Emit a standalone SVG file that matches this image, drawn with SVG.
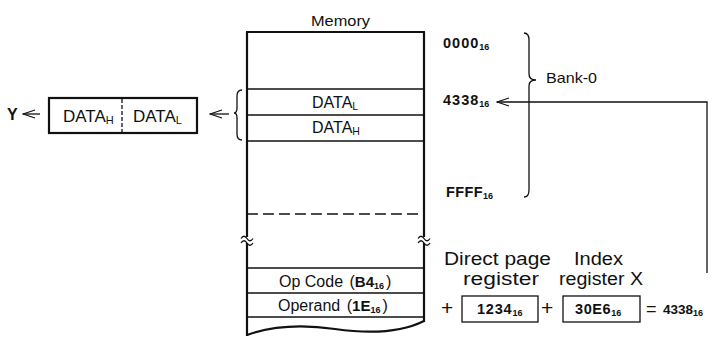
<svg xmlns="http://www.w3.org/2000/svg" width="715" height="338" viewBox="0 0 715 338">
<defs>
<style>
.t{font-family:"Liberation Sans",Arial,sans-serif;fill:#111;}
.b{font-weight:bold;}
.ln{stroke:#111;fill:none;stroke-width:1.3;}
.thick{stroke:#111;fill:none;stroke-width:2.2;}
.sub{font-size:9px;}
</style>
<marker id="ah" viewBox="0 0 14 10" refX="13" refY="5" markerWidth="14" markerHeight="10" markerUnits="userSpaceOnUse" orient="auto">
<path d="M1,1 L13,5 L1,9" fill="none" stroke="#111" stroke-width="1.3"/>
</marker>
</defs>
<rect width="715" height="338" fill="#fff"/>

<g id="memory">
<text class="t" x="311" y="26" font-size="15.5" textLength="59" lengthAdjust="spacingAndGlyphs">Memory</text>
<line class="thick" x1="246" y1="32" x2="425" y2="32"/>
<line class="thick" x1="247" y1="32" x2="247" y2="237"/>
<line class="thick" x1="247" y1="243" x2="247" y2="336"/>
<line class="thick" x1="424" y1="32" x2="424" y2="237"/>
<line class="thick" x1="424" y1="243" x2="424" y2="322"/>
<path class="ln" d="M241,238.5 c2,-3 4,-3 6,0 s4,3 6,0 M241,243 c2,-3 4,-3 6,0 s4,3 6,0"/>
<path class="ln" d="M418,238.5 c2,-3 4,-3 6,0 s4,3 6,0 M418,243 c2,-3 4,-3 6,0 s4,3 6,0"/>
<line class="ln" x1="247" y1="89" x2="424" y2="89"/>
<line class="ln" x1="247" y1="115" x2="424" y2="115"/>
<line class="ln" x1="247" y1="141" x2="424" y2="141"/>
<line class="ln" x1="247" y1="214" x2="424" y2="214" stroke-dasharray="11 5"/>
<line class="ln" x1="247" y1="268" x2="424" y2="268"/>
<line class="ln" x1="247" y1="293" x2="424" y2="293"/>
<line class="ln" x1="247" y1="317" x2="424" y2="317"/>
<path class="thick" d="M247,335 C272,326 300,324 335,329 C370,334 400,333 424,321"/>
<text class="t" x="312" y="108" font-size="16">DATA<tspan font-size="10.5" dy="2">L</tspan></text>
<text class="t" x="312" y="133" font-size="16">DATA<tspan font-size="10.5" dy="2">H</tspan></text>
<text class="t" x="279" y="287" font-size="16">Op Code <tspan dx="2">(</tspan><tspan class="b" font-size="15">B4</tspan><tspan class="b sub" dy="2">16</tspan><tspan dy="-2" dx="2">)</tspan></text>
<text class="t" x="278" y="311" font-size="16">Operand <tspan dx="2">(</tspan><tspan class="b" font-size="15">1E</tspan><tspan class="b sub" dy="2">16</tspan><tspan dy="-2" dx="2">)</tspan></text>
</g>

<g id="data-register">
<rect x="49" y="98" width="148" height="35" class="thick"/>
<line class="ln" x1="122" y1="99" x2="122" y2="132" stroke-dasharray="4 2"/>
<text class="t" x="63" y="122" font-size="17">DATA<tspan font-size="11" dy="2">H</tspan></text>
<text class="t" x="133" y="122" font-size="17">DATA<tspan font-size="11" dy="2">L</tspan></text>
</g>

<g id="y-label">
<text class="t b" x="7" y="120" font-size="16">Y</text>
</g>

<g id="addresses">
<text class="t b" x="443" y="48" font-size="14.5" letter-spacing="1">0000<tspan class="sub" dy="2" letter-spacing="0">16</tspan></text>
<text class="t b" x="443" y="105" font-size="14.5" letter-spacing="1">4338<tspan class="sub" dy="2" letter-spacing="0">16</tspan></text>
<text class="t b" x="446" y="197" font-size="14.5" letter-spacing="0.4">FFFF<tspan class="sub" dy="2" letter-spacing="0">16</tspan></text>
</g>

<g id="bank0">
<path class="ln" d="M524,33 Q529,33 529,40 L529,74 Q529,80 536,80 Q529,80 529,86 L529,190 Q529,197 524,197"/>
<text class="t" x="546" y="83" font-size="14.5" textLength="51" lengthAdjust="spacingAndGlyphs">Bank-0</text>
</g>

<g id="dp-register">
<text class="t" x="444" y="265" font-size="17.5" textLength="107" lengthAdjust="spacingAndGlyphs">Direct page</text>
<text class="t" x="463" y="285" font-size="17.5" textLength="76" lengthAdjust="spacingAndGlyphs">register</text>
<text class="t" x="441" y="315" font-size="21">+</text>
<rect x="462" y="296" width="76" height="26" class="ln"/>
<text class="t b" x="477" y="314" font-size="14.5" letter-spacing="0.8">1234<tspan class="sub" dy="2" letter-spacing="0">16</tspan></text>
</g>

<g id="index-register">
<text class="t" x="574" y="265" font-size="17.5" textLength="49" lengthAdjust="spacingAndGlyphs">Index</text>
<text class="t" x="559" y="285" font-size="17.5" textLength="84" lengthAdjust="spacingAndGlyphs">register X</text>
<text class="t" x="541" y="315" font-size="21">+</text>
<rect x="563" y="296" width="77" height="26" class="ln"/>
<text class="t b" x="575" y="314" font-size="14.5" letter-spacing="0.6">30E6<tspan class="sub" dy="2" letter-spacing="0">16</tspan></text>
</g>

<g id="result">
<text class="t" x="646" y="315" font-size="18">=</text>
<text class="t b" x="663" y="314" font-size="13.5">4338<tspan class="sub" dy="2">16</tspan></text>
</g>

<g id="connectors">
<line class="ln" x1="40" y1="114" x2="23" y2="114" marker-end="url(#ah)"/>
<line class="ln" x1="229" y1="114" x2="210" y2="114" marker-end="url(#ah)"/>
<path class="ln" d="M242,90 Q237,90 237,96 L237,108 Q237,113 234,113 Q237,113 237,118 L237,134 Q237,140 242,140"/>
<path class="ln" d="M707,273 L707,102 L497,102" marker-end="url(#ah)"/>
</g>
</svg>
